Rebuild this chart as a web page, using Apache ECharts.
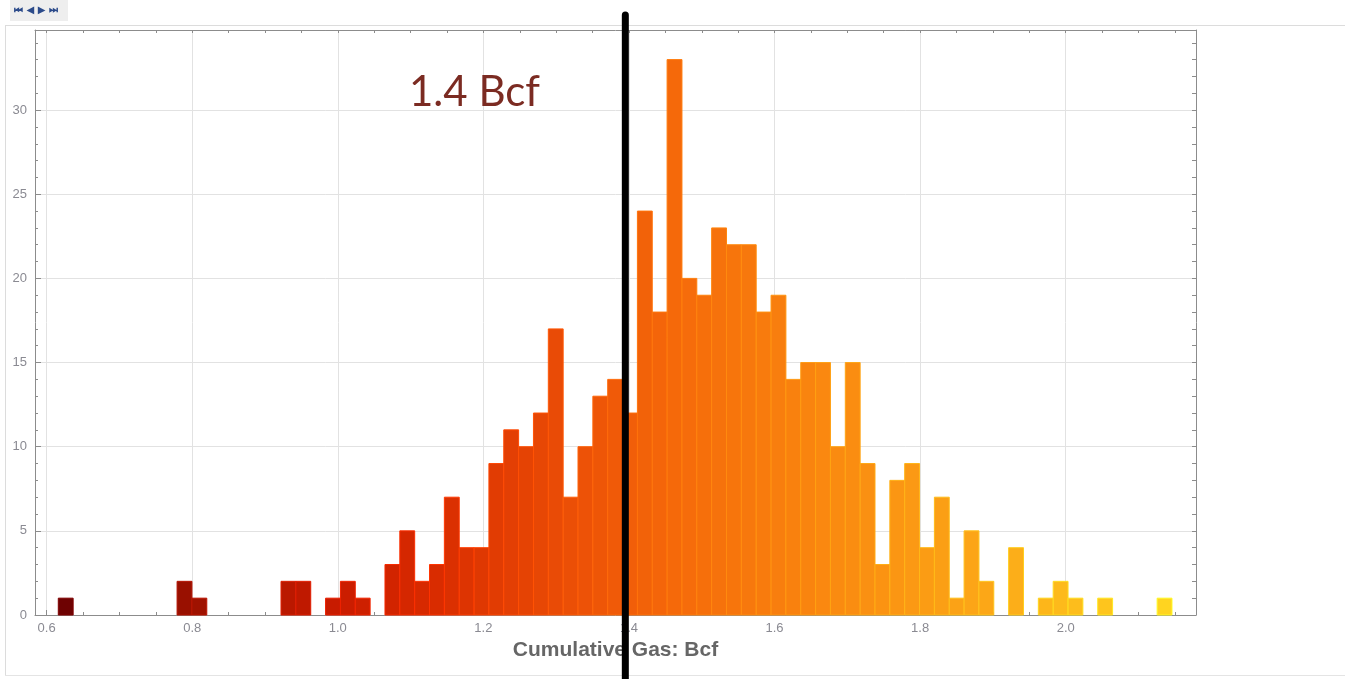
<!DOCTYPE html>
<html>
<head>
<meta charset="utf-8">
<title>Cumulative Gas histogram</title>
<script src="https://cdn.jsdelivr.net/npm/echarts@6/dist/echarts.min.js"></script>
<style>
  html, body { margin: 0; padding: 0; background: #fff; }
  #chart { width: 1345px; height: 679px; }
</style>
</head>
<body>
<div id="chart"></div>
<script>
// histogram bins (500 wells in total)
const binStart = 0.616;
const binWidth = 0.0204;
const counts = [
  1, 0, 0, 0, 0, 0, 0, 0, 2, 1,
  0, 0, 0, 0, 0, 2, 2, 0, 1, 2,
  1, 0, 3, 5, 2, 3, 7, 4, 4, 9,
  11, 10, 12, 17, 7, 10, 13, 14, 12, 24,
  18, 33, 20, 19, 23, 22, 22, 18, 19, 14,
  15, 15, 10, 15, 9, 3, 8, 9, 4, 7,
  1, 5, 2, 0, 4, 0, 1, 2, 1, 0,
  1, 0, 0, 0, 1
];
const xLabelTicks = [0.6, 0.8, 1.0, 1.2, 1.4, 1.6, 1.8, 2.0];
const xMinorTicks = [0.6, 0.65, 0.7, 0.75, 0.8, 0.85, 0.9, 0.95, 1.0, 1.05, 1.1, 1.15, 1.2, 1.25, 1.3, 1.35,
  1.4, 1.45, 1.5, 1.55, 1.6, 1.65, 1.7, 1.75, 1.8, 1.85, 1.9, 1.95, 2.0, 2.05, 2.1, 2.15];
const yLabelTicks = [0, 5, 10, 15, 20, 25, 30];
const yMinorTicks = [0, 1, 2, 3, 4, 5, 6, 7, 8, 9, 10, 11, 12, 13, 14, 15, 16, 17,
  18, 19, 20, 21, 22, 23, 24, 25, 26, 27, 28, 29, 30, 31, 32, 33, 34];
const markerValue = 1.395;
const markerText = "1.4 Bcf";
const xName = "Cumulative Gas: Bcf";

// axis extents
const xMin = 0.584, xMax = 2.179;
const yMin = 0, yMax = 34.76;

// dark red -> yellow, by position of the bin
const palette = [
  [0.00, [110, 2, 2]],
  [0.12, [158, 18, 0]],
  [0.25, [202, 28, 0]],
  [0.33, [216, 42, 0]],
  [0.45, [234, 76, 6]],
  [0.55, [245, 104, 10]],
  [0.70, [250, 138, 16]],
  [0.85, [252, 170, 24]],
  [1.00, [255, 212, 32]]
];
function colorAt(t) {
  for (let k = 1; k < palette.length; k++) {
    if (t <= palette[k][0]) {
      const a = palette[k - 1], b = palette[k];
      const f = (t - a[0]) / (b[0] - a[0]);
      const c = a[1].map((v, j) => Math.round(v + (b[1][j] - v) * f));
      return 'rgb(' + c.join(',') + ')';
    }
  }
  return 'rgb(' + palette[palette.length - 1][1].join(',') + ')';
}

const bars = [];
counts.forEach((c, i) => {
  if (c > 0) bars.push([binStart + i * binWidth, binStart + (i + 1) * binWidth, c, i / (counts.length - 1)]);
});

function renderBar(params, api) {
  const p0 = api.coord([api.value(0), api.value(2)]);
  const p1 = api.coord([api.value(1), 0]);
  const fill = colorAt(api.value(3));
  return {
    type: 'rect',
    shape: { x: p0[0], y: p0[1], width: p1[0] - p0[0], height: p1[1] - p0[1] },
    style: { fill: fill, stroke: echarts.color.lift(fill, -0.18), lineWidth: 1 }
  };
}

const axisGray = '#8c8c8c';
const labelStyle = { color: '#8a8a92', fontSize: 13, fontFamily: 'Liberation Sans, Arial, sans-serif' };

let myChart = echarts.init(document.getElementById('chart'));
let option = {
  animation: false,
  backgroundColor: '#fff',
  grid: { left: 35, right: 149, top: 30, bottom: 64 },
  xAxis: [
    {
      type: 'value', position: 'bottom', min: xMin, max: xMax,
      axisLine: { show: true, onZero: false, lineStyle: { color: axisGray } },
      axisTick: { inside: true, length: 5, customValues: xLabelTicks, lineStyle: { color: axisGray } },
      axisLabel: Object.assign({ customValues: xLabelTicks, margin: 7, formatter: v => v.toFixed(1) }, labelStyle),
      splitLine: { show: true, lineStyle: { color: '#e2e2e2' } },
      name: xName, nameLocation: 'middle', nameGap: 25,
      nameTextStyle: { color: '#666', fontSize: 21, fontWeight: 'bold', fontFamily: 'Liberation Sans, Arial, sans-serif' }
    },
    {
      type: 'value', position: 'bottom', min: xMin, max: xMax,
      axisLine: { show: false, onZero: false },
      axisTick: { inside: true, length: 3, customValues: xMinorTicks, lineStyle: { color: axisGray } },
      axisLabel: { show: false }, splitLine: { show: false }
    },
    {
      type: 'value', position: 'top', min: xMin, max: xMax,
      axisLine: { show: true, onZero: false, lineStyle: { color: axisGray } },
      axisTick: { inside: true, length: 3, customValues: xMinorTicks, lineStyle: { color: axisGray } },
      axisLabel: { show: false }, splitLine: { show: false }
    }
  ],
  yAxis: [
    {
      type: 'value', position: 'left', min: yMin, max: yMax,
      axisLine: { show: true, onZero: false, lineStyle: { color: axisGray } },
      axisTick: { inside: true, length: 6, customValues: yLabelTicks, lineStyle: { color: axisGray } },
      axisLabel: Object.assign({ customValues: yLabelTicks, margin: 8 }, labelStyle),
      splitLine: { show: true, lineStyle: { color: '#e2e2e2' } }
    },
    {
      type: 'value', position: 'left', min: yMin, max: yMax,
      axisLine: { show: false, onZero: false },
      axisTick: { inside: true, length: 3, customValues: yMinorTicks, lineStyle: { color: axisGray } },
      axisLabel: { show: false }, splitLine: { show: false }
    },
    {
      type: 'value', position: 'right', min: yMin, max: yMax,
      axisLine: { show: true, onZero: false, lineStyle: { color: axisGray } },
      axisTick: { inside: true, length: 4, customValues: yMinorTicks, lineStyle: { color: axisGray } },
      axisLabel: { show: false }, splitLine: { show: false }
    }
  ],
  series: [
    {
      type: 'custom',
      xAxisIndex: 0, yAxisIndex: 0,
      renderItem: renderBar,
      encode: { x: [0, 1], y: 2 },
      data: bars
    }
  ]
};
myChart.setOption(option);

// annotation line + frame decorations
const markX = myChart.convertToPixel({ xAxisIndex: 0 }, markerValue);
myChart.setOption({
  graphic: [
    { type: 'rect', shape: { x: 10, y: 0, width: 58, height: 21 }, style: { fill: '#eeeeee' }, z: 10 },
    { type: 'text', left: 14, top: 5, style: { text: '⏮ ◀ ▶ ⏭', fill: '#2b4a8a', fontSize: 10, fontWeight: 'bold', fontFamily: 'DejaVu Sans' }, z: 11 },
    { type: 'line', shape: { x1: 5, y1: 25.5, x2: 1345, y2: 25.5 }, style: { stroke: '#dcdcdc', lineWidth: 1 }, z: 1 },
    { type: 'line', shape: { x1: 5.5, y1: 25, x2: 5.5, y2: 675 }, style: { stroke: '#dcdcdc', lineWidth: 1 }, z: 1 },
    { type: 'line', shape: { x1: 5, y1: 675.5, x2: 1345, y2: 675.5 }, style: { stroke: '#e4e4e4', lineWidth: 1 }, z: 1 },
    {
      type: 'text', left: 409, top: 71, z: 20,
      style: { text: markerText, fill: '#7b2b22', fontSize: 42, fontFamily: 'Lato, sans-serif' }
    },
    {
      type: 'line', z: 30,
      shape: { x1: markX, y1: 15, x2: markX, y2: 690 },
      style: { stroke: '#000', lineWidth: 7, lineCap: 'round' }
    }
  ]
});
</script>
</body>
</html>
